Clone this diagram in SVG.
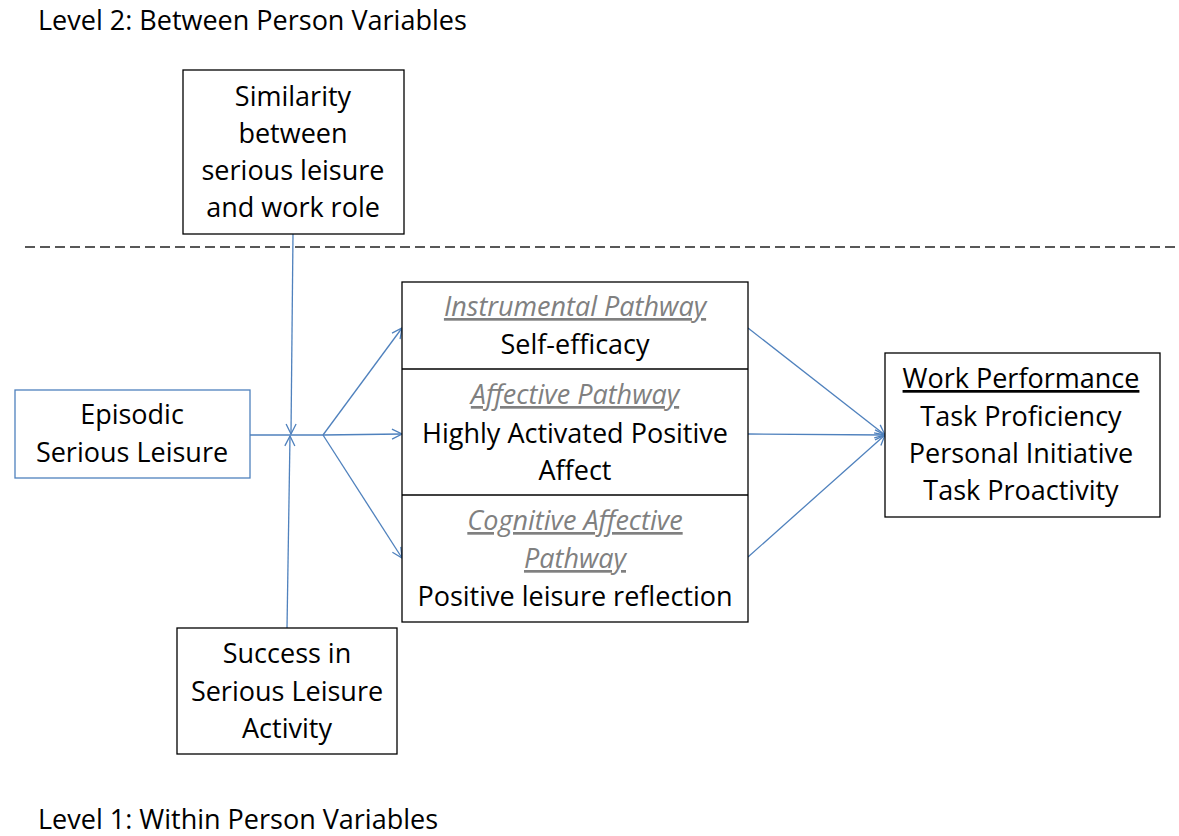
<svg xmlns="http://www.w3.org/2000/svg" width="1179" height="836" viewBox="0 0 1179 836">
  <style>
    text { font-family: "Open Sans", Lato, "Liberation Sans", sans-serif; font-size: 27px; fill: #000; text-anchor: middle; }
    .lvl { text-anchor: start; }
    .path { fill: #808080; font-style: italic; text-decoration: underline; }
    .ul { text-decoration: underline; }
    .box { fill: #fff; stroke: #000; stroke-width: 1.3; }
    .bluebox { fill: #fff; stroke: #4f81bd; stroke-width: 1.3; }
    .conn { fill: none; stroke: #4f81bd; stroke-width: 1.3; }
  </style>
  <defs>
    <marker id="arr" viewBox="0 0 12 12" refX="11" refY="6" markerWidth="12" markerHeight="12" markerUnits="userSpaceOnUse" orient="auto">
      <path d="M1,1 L11,6 L1,11" fill="none" stroke="#4f81bd" stroke-width="1.3"/>
    </marker>
  </defs>
  <rect width="1179" height="836" fill="#fff"/>

  <!-- level labels and divider -->
  <text class="lvl" x="38" y="30">Level 2: Between Person Variables</text>
  <text class="lvl" x="38" y="829">Level 1: Within Person Variables</text>
  <line x1="25" y1="247" x2="1179" y2="247" stroke="#222" stroke-width="1.6" stroke-dasharray="10,5"/>

  <!-- connectors -->
  <g id="connectors">
    <line class="conn" x1="293" y1="234" x2="291" y2="434" marker-end="url(#arr)"/>
    <line class="conn" x1="287" y1="628" x2="290" y2="436" marker-end="url(#arr)"/>
    <line class="conn" x1="250" y1="435" x2="323" y2="435"/>
    <line class="conn" x1="323" y1="435" x2="402" y2="328" marker-end="url(#arr)"/>
    <line class="conn" x1="323" y1="435" x2="402" y2="434" marker-end="url(#arr)"/>
    <line class="conn" x1="323" y1="435" x2="402" y2="558" marker-end="url(#arr)"/>
    <line class="conn" x1="748" y1="328" x2="885" y2="435" marker-end="url(#arr)"/>
    <line class="conn" x1="748" y1="434" x2="885" y2="435" marker-end="url(#arr)"/>
    <line class="conn" x1="748" y1="557" x2="885" y2="435" marker-end="url(#arr)"/>
  </g>

  <g id="similarity">
    <rect class="box" x="183" y="70" width="221" height="164"/>
    <text x="293" y="106">Similarity</text>
    <text x="293" y="143">between</text>
    <text x="293" y="180">serious leisure</text>
    <text x="293" y="217">and work role</text>
  </g>

  <g id="episodic">
    <rect class="bluebox" x="15" y="390" width="235" height="88"/>
    <text x="132" y="424">Episodic</text>
    <text x="132" y="462">Serious Leisure</text>
  </g>

  <g id="pathways">
    <rect class="box" x="402" y="282" width="346" height="340"/>
    <line x1="402" y1="369" x2="748" y2="369" stroke="#000" stroke-width="1.3"/>
    <line x1="402" y1="495" x2="748" y2="495" stroke="#000" stroke-width="1.3"/>
    <text class="path" x="575" y="316">Instrumental  Pathway</text>
    <text x="575" y="354">Self-efficacy</text>
    <text class="path" x="575" y="404">Affective Pathway</text>
    <text x="575" y="443">Highly Activated Positive</text>
    <text x="575" y="480">Affect</text>
    <text class="path" x="575" y="530">Cognitive Affective</text>
    <text class="path" x="575" y="568">Pathway</text>
    <text x="575" y="606">Positive leisure reflection</text>
  </g>

  <g id="performance">
    <rect class="box" x="885" y="353" width="275" height="164"/>
    <text class="ul" x="1021" y="388">Work Performance</text>
    <text x="1021" y="426">Task Proficiency</text>
    <text x="1021" y="463">Personal Initiative</text>
    <text x="1021" y="500">Task Proactivity</text>
  </g>

  <g id="success">
    <rect class="box" x="177" y="628" width="220" height="126"/>
    <text x="287" y="663">Success in</text>
    <text x="287" y="701">Serious Leisure</text>
    <text x="287" y="738">Activity</text>
  </g>
</svg>
